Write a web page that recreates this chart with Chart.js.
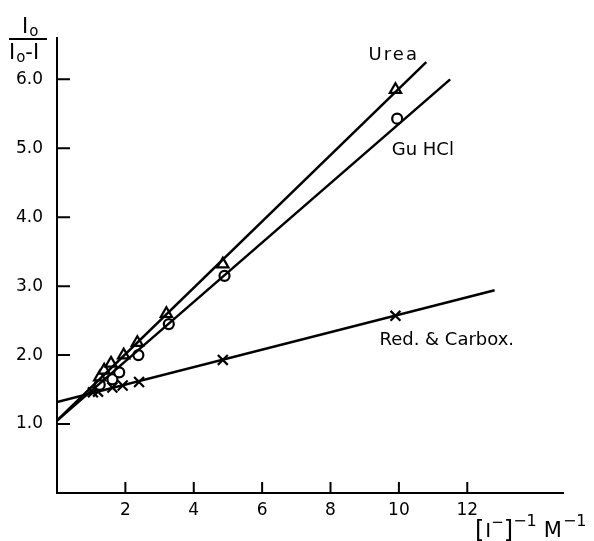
<!DOCTYPE html>
<html>
<head>
<meta charset="utf-8">
<script src="https://cdn.jsdelivr.net/npm/chart.js@4.4.0/dist/chart.umd.min.js"></script>
<style>
  body { margin: 0; background: #fff; }
  #wrap { width: 594px; height: 541px; }
</style>
</head>
<body>
<div id="wrap"><canvas id="myChart" width="594" height="541"></canvas></div>
<script>
// values
let ureaX = [1.25, 1.38, 1.58, 1.95, 2.35, 3.2, 4.85, 9.9];
let ureaY = [1.68, 1.78, 1.88, 2.0, 2.18, 2.6, 3.32, 5.85];
let guX = [1.25, 1.62, 1.82, 2.38, 3.27, 4.9, 9.95];
let guY = [1.57, 1.65, 1.75, 2.0, 2.45, 3.15, 5.43];
let redX = [1.05, 1.2, 1.62, 1.92, 2.4, 4.85, 9.9];
let redY = [1.46, 1.47, 1.53, 1.56, 1.61, 1.93, 2.57];

// fitted straight lines (start / end)
let ureaFitX = [0, 10.8];
let ureaFitY = [1.05, 6.25];
let guFitX = [0, 11.5];
let guFitY = [1.05, 6.0];
let redFitX = [0, 12.8];
let redFitY = [1.32, 2.94];

let xTicks = [2, 4, 6, 8, 10, 12];
let yTicks = [1, 2, 3, 4, 5, 6];

function toPoints(xs, ys) {
    return xs.map((x, i) => ({ x: x, y: ys[i] }));
}

function fitLine(xs, ys) {
    return {
        type: 'line',
        data: toPoints(xs, ys),
        borderColor: '#000',
        borderWidth: 2.5,
        pointRadius: 0,
        fill: false
    };
}

function markers(xs, ys, style, r) {
    return {
        type: 'scatter',
        data: toPoints(xs, ys),
        pointStyle: style,
        pointRadius: r,
        pointBorderColor: '#000',
        pointBackgroundColor: '#fff',
        pointBorderWidth: 2.2,
        showLine: false
    };
}

const FONT = '"DejaVu Sans", sans-serif';

// draw a run of [text, size, dy, gap] pieces from x, baseline y
function drawPieces(ctx, pieces, x, y) {
    pieces.forEach(p => {
        ctx.font = p[1] + 'px ' + FONT;
        ctx.fillText(p[0], x, y + p[2]);
        x += ctx.measureText(p[0]).width + (p[3] || 0);
    });
}

// inward tick marks, series names and axis titles
const decorations = {
    id: 'decorations',
    afterDatasetsDraw(chart) {
        let ctx = chart.ctx;
        let xs = chart.scales.x;
        let ys = chart.scales.y;
        let area = chart.chartArea;
        ctx.save();
        ctx.strokeStyle = '#000';
        ctx.lineWidth = 2;
        ctx.beginPath();
        xTicks.forEach(v => {
            let px = xs.getPixelForValue(v);
            ctx.moveTo(px, area.bottom);
            ctx.lineTo(px, area.bottom - 11);
        });
        yTicks.forEach(v => {
            let py = ys.getPixelForValue(v);
            ctx.moveTo(area.left, py);
            ctx.lineTo(area.left + 13, py);
        });
        ctx.stroke();

        ctx.fillStyle = '#000';
        ctx.textAlign = 'center';
        ctx.textBaseline = 'middle';
        ctx.font = '18px ' + FONT;
        ctx.letterSpacing = '2px';
        ctx.fillText('Urea', xs.getPixelForValue(9.85), ys.getPixelForValue(6.35));
        ctx.letterSpacing = '0px';
        ctx.fillText('Gu HCl', xs.getPixelForValue(10.7), ys.getPixelForValue(4.97));
        ctx.fillText('Red. & Carbox.', xs.getPixelForValue(11.4), ys.getPixelForValue(2.22));

        // y title as a fraction
        ctx.textAlign = 'left';
        ctx.textBaseline = 'alphabetic';
        drawPieces(ctx, [['I', 21, 0, 1], ['o', 15, 3]], 22, 33);
        drawPieces(ctx, [['I', 21, 0, 1], ['o', 15, 3], ['-I', 21, 0]], 9, 59);
        ctx.lineWidth = 2;
        ctx.beginPath();
        ctx.moveTo(9, 39);
        ctx.lineTo(47, 39);
        ctx.stroke();

        // x title
        drawPieces(ctx, [
            ['[', 24, 1, 1], ['I', 20, 0], ['\u2212', 15, -10], [']', 24, 1], ['\u22121', 16, -11, 7],
            ['M', 21, 0, 1], ['\u22121', 16, -11]
        ], 475, 537);
        ctx.restore();
    }
};

let ctx = document.getElementById('myChart').getContext('2d');
let myChart = new Chart(ctx, {
    type: 'scatter',
    data: {
        datasets: [
            fitLine(ureaFitX, ureaFitY),
            fitLine(guFitX, guFitY),
            fitLine(redFitX, redFitY),
            markers(ureaX, ureaY, 'triangle', 6.5),
            markers(guX, guY, 'circle', 5),
            markers(redX, redY, 'crossRot', 7)
        ]
    },
    options: {
        responsive: false,
        animation: false,
        layout: { padding: { top: 38, right: 31, left: 0, bottom: 0 } },
        plugins: {
            legend: { display: false },
            tooltip: { enabled: false }
        },
        scales: {
            x: {
                type: 'linear',
                min: 0,
                max: 14.8,
                afterBuildTicks: s => { s.ticks = xTicks.map(v => ({ value: v })); },
                afterFit: s => { s.height = 48; },
                grid: { display: false, drawTicks: false },
                border: { display: true, color: '#000', width: 2 },
                ticks: {
                    color: '#000',
                    padding: 7,
                    maxRotation: 0,
                    font: { family: FONT, size: 17 }
                }
            },
            y: {
                type: 'linear',
                min: 0,
                max: 6.6,
                afterBuildTicks: s => { s.ticks = yTicks.map(v => ({ value: v })); },
                afterFit: s => { s.width = 57; },
                grid: { display: false, drawTicks: false },
                border: { display: true, color: '#000', width: 2 },
                ticks: {
                    color: '#000',
                    padding: 14,
                    font: { family: FONT, size: 17 },
                    callback: v => v.toFixed(1)
                }
            }
        }
    },
    plugins: [decorations]
});
</script>
</body>
</html>
